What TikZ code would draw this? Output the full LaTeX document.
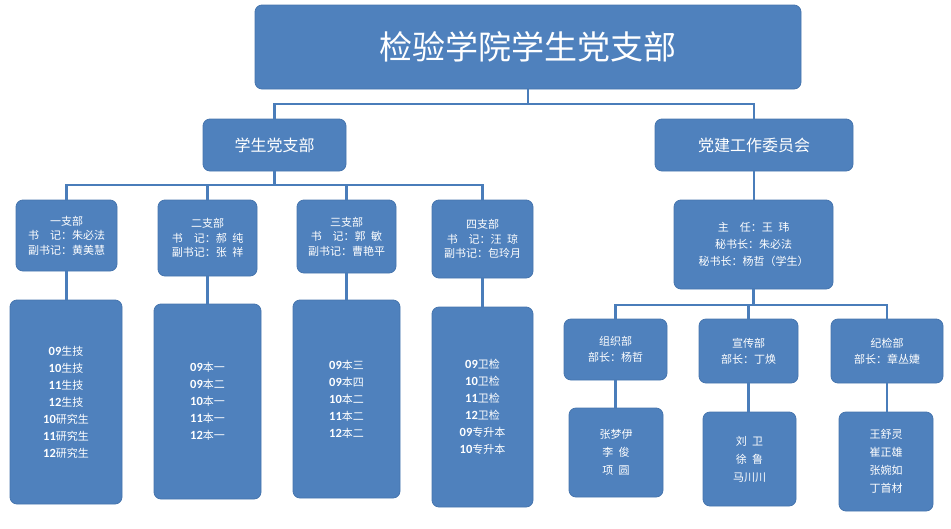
\documentclass[tikz,border=0pt]{standalone}
\usepackage{fontspec}
\setmainfont{Noto Sans CJK SC}
\newfontfamily\numfont{Carlito}
\usepackage{tikz}
\usetikzlibrary{
  calc,%
  positioning
}
\tikzset{>=latex}
\definecolor{boxblue}{HTML}{4F81BD}
\definecolor{boxedge}{HTML}{4675AE}
\definecolor{linkblue}{HTML}{4A7DBA}
\tikzset{unit/.style={draw=boxedge, fill=boxblue, rounded corners=7pt,
    text=white, align=center, inner sep=0pt, line width=0.8pt}}
\tikzset{small/.style={font=\fontsize{11}{14.5}\selectfont}}
\tikzset{link/.style={draw=linkblue, line width=2.4pt}}
\newcommand{\cls}[2]{{\numfont\bfseries\fontsize{12.5}{17}\selectfont #1}#2}
\newcommand{\gap}{\hspace{0.5em}}

\begin{document}
\begin{tikzpicture}[x=1pt, y=-1pt]
  \useasboundingbox (0,0) rectangle (951,528);
  % top
  \node[unit, minimum width=546, minimum height=84,
    font=\fontsize{33}{40}\selectfont] (title) at (528,47) {检验学院学生党支部};
  \node[unit, minimum width=143, minimum height=52,
    font=\fontsize{16}{20}\selectfont] (stu) at (274.5,145) {学生党支部};
  \node[unit, minimum width=198, minimum height=52,
    font=\fontsize{16}{20}\selectfont] (work) at (754,145) {党建工作委员会};
  % branches
  \node[unit, small, minimum width=101, minimum height=71] (b1) at (66.5,235.5)
    {一支部\\书\hspace{1em}记：朱必法\\副书记：黄美慧};
  \node[unit, small, minimum width=99, minimum height=76] (b2) at (207.5,238)
    {二支部\\书\hspace{1em}记：郝\gap 纯\\副书记：张\gap 祥};
  \node[unit, small, minimum width=99, minimum height=73] (b3) at (346.5,236.5)
    {三支部\\书\hspace{1em}记：郭\gap 敏\\副书记：曹艳平};
  \node[unit, small, minimum width=101, minimum height=78] (b4) at (482.5,239)
    {四支部\\书\hspace{1em}记：汪\gap 琼\\副书记：包玲月};
  % classes
  \node[unit, font=\fontsize{11}{17}\selectfont, minimum width=112, minimum height=204] (c1) at (66,402)
    {\cls{09}{生技}\\\cls{10}{生技}\\\cls{11}{生技}\\\cls{12}{生技}\\\cls{10}{研究生}\\\cls{11}{研究生}\\\cls{12}{研究生}};
  \node[unit, font=\fontsize{11}{17}\selectfont, minimum width=107, minimum height=195] (c2) at (207.5,401.5)
    {\cls{09}{本一}\\\cls{09}{本二}\\\cls{10}{本一}\\\cls{11}{本一}\\\cls{12}{本一}};
  \node[unit, font=\fontsize{11}{17}\selectfont, minimum width=107, minimum height=198] (c3) at (346.5,399)
    {\cls{09}{本三}\\\cls{09}{本四}\\\cls{10}{本二}\\\cls{11}{本二}\\\cls{12}{本二}};
  \node[unit, font=\fontsize{11}{17}\selectfont, minimum width=101, minimum height=200] (c4) at (482.5,407)
    {\cls{09}{卫检}\\\cls{10}{卫检}\\\cls{11}{卫检}\\\cls{12}{卫检}\\\cls{09}{专升本}\\\cls{10}{专升本}};
  % committee
  \node[unit, font=\fontsize{11}{17}\selectfont, minimum width=159, minimum height=89] (head) at (753.5,244.5)
    {主\hspace{1em}任：王\gap 玮\\秘书长：朱必法\\秘书长：杨哲（学生）};
  \node[unit, font=\fontsize{11}{16}\selectfont, minimum width=103, minimum height=61] (d1) at (615.5,349.5)
    {组织部\\部长：杨哲};
  \node[unit, font=\fontsize{11}{16}\selectfont, minimum width=99, minimum height=64] (d2) at (748.5,351)
    {宣传部\\部长：丁焕};
  \node[unit, font=\fontsize{11}{16}\selectfont, minimum width=112, minimum height=64] (d3) at (887,351)
    {纪检部\\部长：章丛婕};
  \node[unit, font=\fontsize{11}{18}\selectfont, minimum width=94, minimum height=89] (m1) at (616,452.5)
    {张梦伊\\李\gap 俊\\项\gap 圆};
  \node[unit, font=\fontsize{11}{18}\selectfont, minimum width=93, minimum height=94] (m2) at (749.5,459)
    {刘\gap 卫\\徐\gap 鲁\\马川川};
  \node[unit, font=\fontsize{11}{18}\selectfont, minimum width=94, minimum height=99] (m3) at (886,461.5)
    {王舒灵\\崔正雄\\张婉如\\丁首材};
  % connectors
  \coordinate (bus0) at (0,104);
  \coordinate (bus1) at (0,185);
  \coordinate (bus2) at (0,305);
  \draw[link] (title.south) -- (title.south |- bus0) -| (stu.north);
  \draw[link] (title.south |- bus0) -| (work.north);
  \draw[link] (stu.south) -- (stu.south |- bus1);
  \foreach \b in {b1, b2, b3, b4}
    \draw[link] (stu.south |- bus1) -| (\b.north);
  \foreach \b/\c in {b1/c1, b2/c2, b3/c3, b4/c4}
    \draw[link] (\b.south) -- (\b.south |- \c.north);
  \draw[link] (work.south) -- (work.south |- head.north);
  \draw[link] (head.south) -- (head.south |- bus2);
  \foreach \d in {d1, d2, d3}
    \draw[link] (head.south |- bus2) -| (\d.north);
  \foreach \d/\m in {d1/m1, d2/m2, d3/m3}
    \draw[link] (\d.south) -- (\d.south |- \m.north);
\end{tikzpicture}
\end{document}
